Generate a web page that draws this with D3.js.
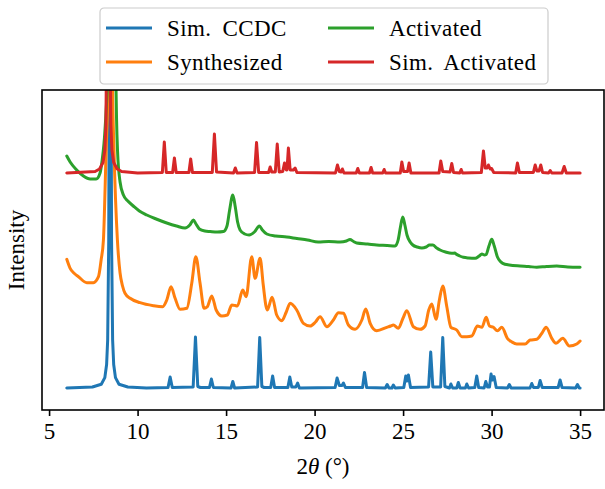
<!DOCTYPE html>
<html>
<head>
<meta charset="utf-8">
<script src="https://cdn.jsdelivr.net/npm/d3@7"></script>
<style>
  body { margin: 0; background: #fff; }
  text { font-family: "Liberation Serif", "DejaVu Serif", serif; fill: #000; }
</style>
</head>
<body>
<div id="xrd-chart"></div>
<script>
"use strict";

// Data: [2theta (deg), intensity (a.u., offset per pattern)]
const simCcdc = [
  [6.0, 22], [7.45, 23], [7.95, 25.8], [8.15, 32.4], [8.25, 45.5], [8.31, 70], [8.37, 170], [8.45, 700],
  [8.53, 170], [8.59, 70], [8.65, 45.5], [8.75, 32.4], [8.95, 25.8], [9.45, 23], [10.5, 22],
  [11.72, 22.5], [11.84, 33], [11.96, 22.5], [13.14, 23], [13.27, 73], [13.4, 23.5], [13.55, 22.5],
  [14.06, 22.5], [14.17, 31], [14.28, 22.5], [15.28, 22], [15.38, 28.5], [15.48, 22],
  [16.78, 23], [16.9, 72.5], [17.02, 23.5], [17.15, 22.5], [17.52, 22.5], [17.63, 34], [17.74, 22.5],
  [18.49, 22.5], [18.6, 33], [18.71, 23], [18.94, 23], [19.04, 27], [19.14, 22],
  [21.16, 22.5], [21.27, 32], [21.4, 24.5], [21.55, 24.5], [21.63, 27], [21.74, 22.5],
  [22.71, 22.5], [22.82, 37.5], [22.94, 22.5], [24.0, 22], [24.1, 25.5], [24.2, 22],
  [24.37, 22], [24.45, 25], [24.55, 22], [25.04, 22.5], [25.15, 34], [25.22, 29], [25.3, 35], [25.42, 22.5],
  [26.44, 23], [26.56, 58], [26.68, 23], [27.12, 23], [27.24, 72.5], [27.36, 23.5],
  [27.62, 22], [27.7, 26], [27.8, 22], [28.03, 22], [28.12, 27.5], [28.22, 22],
  [28.52, 22], [28.6, 26], [28.7, 22], [29.05, 22.5], [29.16, 34], [29.27, 22.5],
  [29.58, 22], [29.67, 28.5], [29.77, 23], [29.88, 23], [29.97, 36], [30.05, 30], [30.14, 33.5], [30.26, 22.5],
  [30.9, 22], [31.0, 25.5], [31.1, 22], [32.17, 22], [32.27, 26.5], [32.37, 22.5],
  [32.64, 22.5], [32.74, 29.5], [32.86, 22.5], [33.76, 22.5], [33.87, 30], [33.98, 22.5],
  [34.75, 22], [34.85, 25.5], [34.95, 22], [35.0, 22]
];

const synthesized = [
  [6.0, 150.7], [6.19, 141.7], [6.4, 137], [6.66, 133.3], [7.13, 127.3], [7.5, 127.3], [7.79, 133.3],
  [7.94, 150], [8.07, 170], [8.22, 258], [8.35, 340], [8.46, 600], [8.57, 340], [8.67, 258], [8.86, 170],
  [9.01, 137], [9.15, 124], [9.29, 116.7], [9.58, 111.7], [10.14, 107.3], [10.89, 104.3], [11.42, 103.3],
  [11.65, 110], [11.89, 123.3], [12.12, 111.7], [12.4, 100.7], [12.78, 101.7], [13.06, 126.7], [13.29, 153.3],
  [13.53, 126.7], [13.76, 101.7], [13.94, 103.3], [14.19, 114], [14.44, 100], [14.76, 94], [15.07, 95],
  [15.32, 105], [15.51, 104.5], [15.64, 104], [15.94, 120], [16.13, 113.3], [16.45, 153.3], [16.64, 131.7],
  [16.92, 151.7], [17.1, 125], [17.26, 103.3], [17.33, 100], [17.6, 112.7], [17.86, 95], [18.15, 89.3],
  [18.4, 98], [18.62, 106.7], [18.99, 100], [19.37, 86.7], [19.75, 84], [20.05, 88], [20.31, 93.3],
  [20.69, 83.3], [21.06, 90], [21.35, 97.3], [21.63, 96.7], [21.91, 85], [22.29, 80.7], [22.67, 90],
  [22.89, 101], [23.14, 86.7], [23.51, 79.3], [24.08, 82.7], [24.3, 84], [24.45, 85], [24.73, 81.7],
  [25.0, 92], [25.21, 99.3], [25.58, 83.3], [25.96, 80.7], [26.24, 84], [26.45, 100], [26.62, 106],
  [26.86, 90.7], [27.05, 110], [27.24, 124], [27.47, 103.3], [27.7, 82.7], [28.03, 80], [28.32, 73.3],
  [28.6, 73.3], [28.88, 74], [29.2, 84], [29.45, 82.7], [29.69, 92.7], [29.88, 84], [30.1, 82.7],
  [30.33, 79.3], [30.58, 82.7], [30.89, 71.7], [31.15, 68], [31.42, 66], [31.89, 66], [32.18, 70],
  [32.55, 70.7], [32.85, 77], [33.08, 82.7], [33.4, 71.7], [33.64, 66.7], [34.02, 71.7], [34.4, 64],
  [34.81, 66], [35.0, 69]
];

const activated = [
  [6.0, 254], [6.19, 248], [6.56, 240], [6.94, 234], [7.32, 231], [7.66, 231], [7.88, 237], [8.0, 250],
  [8.1, 266], [8.2, 292], [8.32, 335], [8.6, 520], [8.77, 335], [8.81, 292], [8.87, 258], [9.01, 228],
  [9.2, 215], [9.45, 209], [9.76, 204], [10.1, 199], [10.52, 195], [11.05, 191], [11.65, 187], [12.2, 184],
  [12.68, 182], [12.95, 185], [13.15, 190], [13.3, 186], [13.49, 181], [13.8, 179], [14.1, 178.5],
  [14.5, 178], [14.85, 178.5], [15.05, 184], [15.2, 200], [15.38, 215], [15.52, 203], [15.65, 188],
  [15.79, 180], [16.05, 176], [16.3, 175], [16.6, 178], [16.88, 184], [17.05, 180], [17.3, 176],
  [17.8, 174], [18.43, 173], [19.0, 171.5], [19.6, 170], [20.2, 168], [20.8, 168.5], [21.44, 168],
  [21.8, 169], [22.0, 170.5], [22.2, 168.5], [22.38, 167], [23.0, 166], [23.51, 165], [24.1, 164.5],
  [24.55, 164], [24.72, 170], [24.85, 183], [24.98, 193], [25.1, 185], [25.22, 175], [25.4, 168],
  [25.55, 165], [25.8, 163], [26.06, 162], [26.3, 163], [26.49, 165], [26.68, 165], [26.9, 162],
  [27.09, 160], [27.4, 158], [27.75, 156.7], [27.92, 157], [27.99, 156], [28.2, 154], [28.41, 152.7],
  [28.7, 152], [29.07, 151.7], [29.3, 154], [29.45, 156], [29.6, 155], [29.69, 155.5], [29.85, 164],
  [30.01, 170.7], [30.15, 164], [30.33, 153], [30.5, 148.5], [30.63, 146.7], [31.0, 145], [31.61, 144],
  [32.1, 143.5], [32.55, 142.7], [33.1, 143.5], [33.68, 144], [34.3, 143], [35.0, 142.7]
];

const simActivated = [
  [6.0, 237], [7.6, 238.5], [7.85, 241], [8.05, 247.5], [8.15, 260], [8.21, 285], [8.27, 400], [8.35, 800],
  [8.43, 400], [8.49, 285], [8.55, 260], [8.65, 247.5], [8.85, 241], [9.1, 238.5], [10.0, 237],
  [11.4, 237.5], [11.51, 268], [11.62, 237.5], [11.98, 237.5], [12.08, 252], [12.18, 237.5],
  [12.9, 237.5], [13.0, 251], [13.1, 237.5], [14.22, 237.5], [14.34, 276], [14.46, 238],
  [15.42, 237], [15.52, 242], [15.62, 237], [16.61, 237.5], [16.72, 267.5], [16.84, 237.5],
  [17.4, 237.5], [17.49, 243], [17.58, 238], [17.78, 238], [17.89, 266], [18.0, 238],
  [18.2, 238.5], [18.3, 247], [18.4, 240], [18.44, 240], [18.52, 262], [18.62, 240], [18.8, 240],
  [18.9, 242], [19.0, 237.5], [21.18, 237], [21.29, 245], [21.4, 238.5], [21.5, 238], [21.57, 241], [21.66, 237],
  [22.35, 237], [22.44, 241.5], [22.53, 237], [23.1, 237], [23.19, 242.5], [23.28, 237],
  [23.85, 237], [23.93, 240.5], [24.01, 237], [24.84, 237], [24.93, 248], [25.03, 238.5],
  [25.25, 238.5], [25.34, 247], [25.44, 237], [27.03, 237], [27.13, 249], [27.24, 238.5],
  [27.65, 238], [27.75, 246.5], [27.85, 237.5], [28.2, 237], [28.28, 240.5], [28.36, 237],
  [29.42, 237.5], [29.54, 259], [29.64, 242], [29.75, 242], [29.82, 245], [29.92, 241], [30.0, 241.5], [30.12, 237.5],
  [31.36, 237], [31.46, 247], [31.57, 237.5], [32.36, 237.5], [32.46, 245], [32.56, 239], [32.68, 239],
  [32.78, 245], [32.88, 237.5], [33.22, 237], [33.31, 239.5], [33.4, 237], [33.98, 237], [34.1, 243.5],
  [34.22, 237], [35.0, 237]
];

// Series names, colours and tick labels
const seriesNames = ["Sim. CCDC", "Synthesized", "Activated", "Sim. Activated"];
const seriesData = [simCcdc, synthesized, activated, simActivated];
const seriesColors = ["#1f77b4", "#ff7f0e", "#2ca02c", "#d62728"];
const smoothSeries = [false, true, true, false];
const xTicks = [5, 10, 15, 20, 25, 30, 35];

// Chart size and plot frame
const width = 605;
const height = 489;
const margin = { top: 90, right: 1, bottom: 79, left: 42 };
const plotW = width - margin.left - margin.right;
const plotH = height - margin.top - margin.bottom;

const svg = d3.select("#xrd-chart")
  .append("svg")
  .attr("width", width)
  .attr("height", height);

const x = d3.scaleLinear().domain([4.6, 36.35]).range([0, plotW]);
const y = d3.scaleLinear().domain([0, 320]).range([plotH, 0]);

const plot = svg.append("g").attr("transform", `translate(${margin.left},${margin.top})`);

// Clip the lines to the axes box (peaks run off the top)
svg.append("defs").append("clipPath").attr("id", "clip")
  .append("rect").attr("width", plotW).attr("height", plotH);

const lines = plot.append("g").attr("clip-path", "url(#clip)");

seriesData.forEach((data, i) => {
  const line = d3.line()
    .x(d => x(d[0]))
    .y(d => y(d[1]))
    .curve(smoothSeries[i] ? d3.curveMonotoneX : d3.curveLinear);
  lines.append("path")
    .datum(data)
    .attr("d", line)
    .attr("fill", "none")
    .attr("stroke", seriesColors[i])
    .attr("stroke-width", 3)
    .attr("stroke-linejoin", "round")
    .attr("stroke-linecap", "round");
});

// Axes frame
plot.append("rect")
  .attr("width", plotW)
  .attr("height", plotH)
  .attr("fill", "none")
  .attr("stroke", "#000")
  .attr("stroke-width", 1.6);

// Bottom axis
const xAxis = plot.append("g")
  .attr("transform", `translate(0,${plotH})`)
  .call(d3.axisBottom(x).tickValues(xTicks).tickSize(6).tickPadding(7).tickFormat(d3.format("d")));
xAxis.select(".domain").remove();
xAxis.selectAll(".tick line").attr("stroke", "#000").attr("stroke-width", 1.6);
xAxis.selectAll(".tick text")
  .style("font-family", "'Liberation Serif', serif")
  .style("font-size", "23px");

// Axis titles
const xTitle = svg.append("text")
  .attr("x", margin.left + plotW / 2)
  .attr("y", 474)
  .attr("text-anchor", "middle")
  .style("font-size", "23px");
xTitle.append("tspan").text("2");
xTitle.append("tspan").style("font-style", "italic").text("θ");
xTitle.append("tspan").text(" (°)");

svg.append("text")
  .attr("transform", `translate(24,${margin.top + plotH / 2}) rotate(-90)`)
  .attr("text-anchor", "middle")
  .style("font-size", "23px")
  .text("Intensity");

// Legend above the axes, two columns
const legend = svg.append("g").attr("transform", "translate(100,8)");
legend.append("rect")
  .attr("width", 448)
  .attr("height", 76)
  .attr("rx", 4)
  .attr("fill", "#fff")
  .attr("fill-opacity", 0.8)
  .attr("stroke", "#ccc")
  .attr("stroke-width", 1.2);

seriesNames.forEach((name, i) => {
  const col = Math.floor(i / 2);
  const row = i % 2;
  const gx = 6 + col * 222;
  const gy = 20 + row * 34;
  legend.append("line")
    .attr("x1", gx).attr("x2", gx + 46)
    .attr("y1", gy).attr("y2", gy)
    .attr("stroke", seriesColors[i])
    .attr("stroke-width", 3);
  legend.append("text")
    .attr("x", gx + 61)
    .attr("y", gy)
    .attr("dy", "0.35em")
    .style("font-size", "23px")
    .style("letter-spacing", "0.4px")
    .style("word-spacing", "5px")
    .text(name);
});
</script>
</body>
</html>
